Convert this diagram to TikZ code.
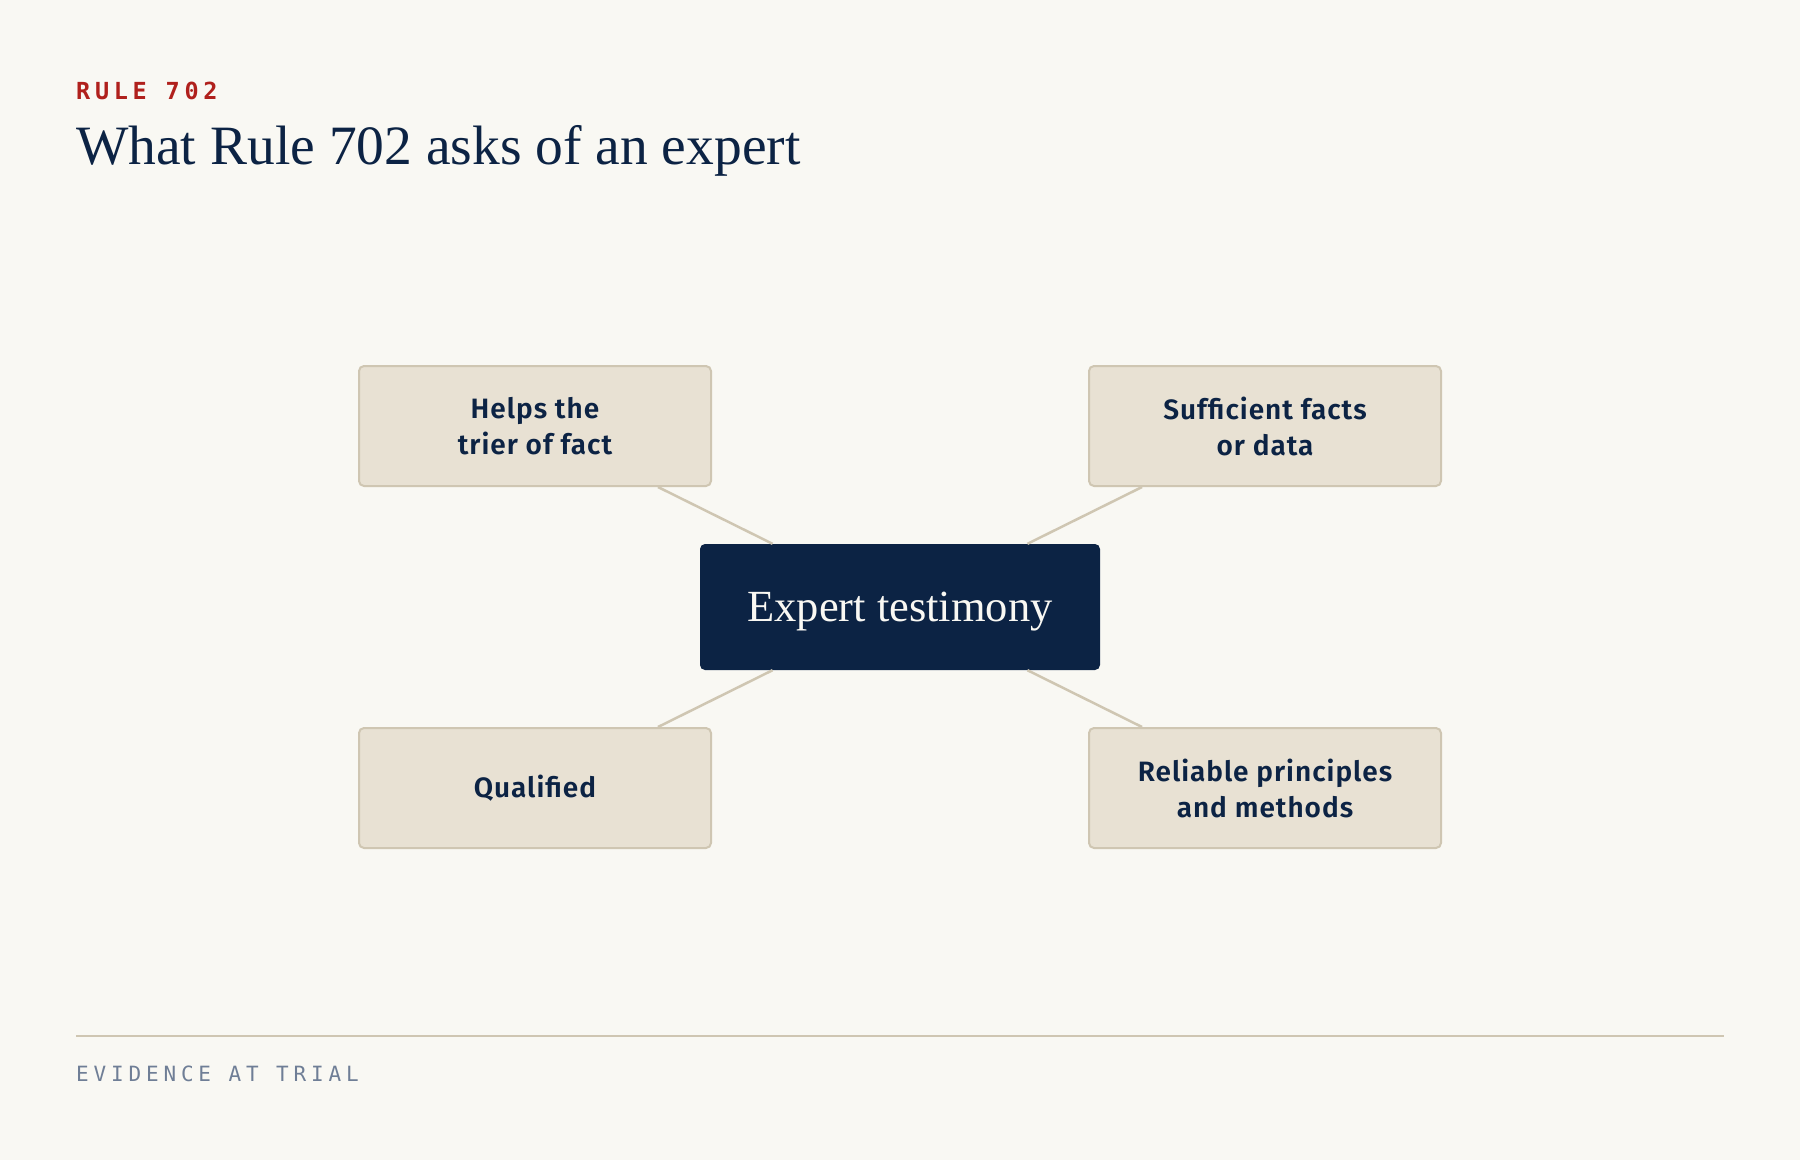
\documentclass[tikz,border=0pt]{standalone}
\usepackage{fontspec}
\setmainfont{Liberation Serif}
\newfontfamily\monofont{DejaVu Sans Mono}[LetterSpace=20]
\newfontfamily\footfont{DejaVu Sans Mono}[LetterSpace=23]
\newfontfamily\boxfont{Fira Sans SemiBold}[LetterSpace=3.5]
\usepackage{xcolor}
\definecolor{paper}{HTML}{F9F8F3}
\definecolor{boxfill}{HTML}{E8E1D3}
\definecolor{boxline}{HTML}{CFC6B2}
\definecolor{navy}{HTML}{0C2344}
\definecolor{rulered}{HTML}{B0201C}
\definecolor{footgray}{HTML}{6F7E96}

\begin{document}
\begin{tikzpicture}[x = 1pt, y = -1pt,
    box/.style = {draw = boxline, fill = boxfill, line width = 2pt, rounded corners = 5pt,
        minimum width = 352pt, minimum height = 120pt, align = center, text = navy,
        font = \boxfont\fontsize{28}{36}\selectfont},
    core/.style = {fill = navy, rounded corners = 5pt, minimum width = 400pt,
        minimum height = 126pt, text depth = 0pt, text = paper,
        font = \fontsize{44.5}{50}\selectfont},
    link/.style = {draw = boxline, line width = 2.5pt}]
    % Sfondo
    \fill[paper] (0,0) rectangle (1800,1160);
    \useasboundingbox (0,0) rectangle (1800,1160);
    % Parametri
    \pgfmathsetmacro{\cx}{900}
    \pgfmathsetmacro{\cy}{607}
    \pgfmathsetmacro{\dx}{365}
    \pgfmathsetmacro{\dy}{181}
    % Intestazione
    \node[anchor = base west, inner sep = 0pt, text = rulered,
        font = \monofont\bfseries\fontsize{23.5}{23.5}\selectfont] (etichetta) at (76,99) {RULE 702};
    \node[anchor = base west, inner sep = 0pt, text = navy,
        font = \fontsize{55.5}{60}\selectfont] (titolo) at (76,164) {What Rule 702 asks of an expert};
    % Nodi
    \node[core] (esperto) at (\cx,\cy) {Expert testimony};
    \node[box] (aiuta) at ({\cx-\dx},{\cy-\dy}) {Helps the\\trier of fact};
    \node[box] (fatti) at ({\cx+\dx},{\cy-\dy}) {Sufficient facts\\or data};
    \node[box] (qualificato) at ({\cx-\dx},{\cy+\dy}) {Qualified};
    \node[box] (metodi) at ({\cx+\dx},{\cy+\dy}) {Reliable principles\\and methods};
    % Collegamenti
    \draw[link] (esperto) -- (aiuta);
    \draw[link] (esperto) -- (fatti);
    \draw[link] (esperto) -- (qualificato);
    \draw[link] (esperto) -- (metodi);
    % Piede
    \coordinate (pl) at (76,1036);
    \coordinate (pr) at (1724,1036);
    \draw[line width = 2pt, boxline] (pl) -- (pr);
    \node[anchor = base west, inner sep = 0pt, text = footgray,
        font = \footfont\fontsize{21}{21}\selectfont] (piede) at (76,1081) {EVIDENCE AT TRIAL};
\end{tikzpicture}
\end{document}
